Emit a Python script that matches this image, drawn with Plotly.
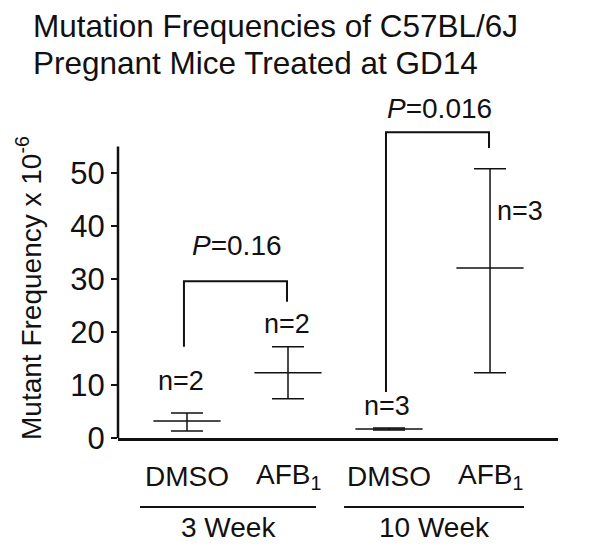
import plotly.graph_objects as go

# ---- data ----
treatments = ["DMSO", "AFB<sub>1</sub>", "DMSO", "AFB<sub>1</sub>"]
weeks = ["3 Week", "10 Week"]
means = [3.2, 12.3, 1.7, 32.1]
err_plus = [1.5, 4.9, 0.2, 18.7]
err_minus = [1.9, 4.9, 0.2, 19.8]
n_labels = ["n=2", "n=2", "n=3", "n=3"]
n_label_y = [10.8, 21.5, 6.0, 42.8]
n_label_dx = [-0.06, -0.01, -0.02, 0.30]
p_values = ["0.16", "0.016"]
p_label_y = [36.4, 62.1]
bracket_left_bottom = [17.2, 8.7]
bracket_top = [29.6, 57.7]
bracket_right_bottom = [25.7, 54.7]
y_ticks = [0, 10, 20, 30, 40, 50]
y_axis_top = 55

FONT = "Liberation Sans, Arial, Helvetica, sans-serif"
INK = "#111111"

xs = list(range(len(treatments)))

fig = go.Figure()

# means with error bars
fig.add_trace(go.Scatter(
    x=xs, y=means, mode="markers",
    marker=dict(symbol="line-ew", size=48, color=INK,
                line=dict(width=1.5, color=INK)),
    error_y=dict(type="data", array=err_plus, arrayminus=err_minus,
                 symmetric=False, thickness=1.5, width=16, color=INK),
    showlegend=False, hoverinfo="skip",
))

# significance brackets
for g in range(len(weeks)):
    xl = 2 * g - 0.03
    xr = 2 * g + 1 - 0.01
    fig.add_trace(go.Scatter(
        x=[xl, xl, xr, xr],
        y=[bracket_left_bottom[g], bracket_top[g], bracket_top[g], bracket_right_bottom[g]],
        mode="lines", line=dict(color=INK, width=2),
        showlegend=False, hoverinfo="skip",
    ))
    fig.add_annotation(x=2 * g + 0.5, y=p_label_y[g], xref="x", yref="y",
                       text="<i>P</i>=" + p_values[g], showarrow=False,
                       font=dict(size=28, family=FONT, color=INK))

# n labels
for i, t in enumerate(n_labels):
    fig.add_annotation(x=xs[i] + n_label_dx[i], y=n_label_y[i], xref="x", yref="y",
                       text=t, showarrow=False,
                       font=dict(size=27, family=FONT, color=INK))

# category labels
for i, t in enumerate(treatments):
    fig.add_annotation(x=xs[i], y=-0.109, xref="x", yref="paper", text=t,
                       showarrow=False, yanchor="middle",
                       font=dict(size=28, family=FONT, color=INK))

# group underlines and labels
for g, w in enumerate(weeks):
    x0 = 2 * g - 0.465 + (0.02 if g else 0)
    x1 = 2 * g + 1.277 + (0.06 if g else 0)
    fig.add_shape(type="line", xref="x", yref="paper", x0=x0, x1=x1,
                  y0=-0.197, y1=-0.197, line=dict(color=INK, width=2))
    fig.add_annotation(x=(x0 + x1) / 2, y=-0.257, xref="x", yref="paper", text=w,
                       showarrow=False, yanchor="middle",
                       font=dict(size=28, family=FONT, color=INK))

# y axis line (only up to 55)
fig.add_shape(type="line", xref="paper", yref="y", x0=0, x1=0, y0=0, y1=y_axis_top,
              line=dict(color=INK, width=2.5))

# y-axis title
fig.add_annotation(x=-0.202, y=0.429, xref="paper", yref="paper",
                   text="Mutant Frequency x 10<sup>-6</sup>", textangle=-90,
                   showarrow=False, xanchor="center", yanchor="middle",
                   font=dict(size=28, family=FONT, color=INK))

# title (two lines)
fig.add_annotation(x=-0.197, y=1.178, xref="paper", yref="paper",
                   text="Mutation Frequencies of C57BL/6J", showarrow=False,
                   xanchor="left", yanchor="middle",
                   font=dict(size=31.5, family=FONT, color=INK))
fig.add_annotation(x=-0.197, y=1.071, xref="paper", yref="paper",
                   text="Pregnant Mice Treated at GD14", showarrow=False,
                   xanchor="left", yanchor="middle",
                   font=dict(size=31.5, family=FONT, color=INK))

# the page has an 8px body margin: the figure is sized/offset to compensate
fig.update_layout(
    width=593, height=543,
    margin=dict(l=110, r=43, t=80, b=113),
    paper_bgcolor="white", plot_bgcolor="white",
    font=dict(family=FONT, color=INK),
    xaxis=dict(range=[-0.683, 3.673], showline=True, linewidth=2.5, linecolor=INK,
               showticklabels=False, ticks="", showgrid=False, zeroline=False),
    yaxis=dict(range=[0, 66.04], showline=False, ticks="outside", ticklen=6,
               tickwidth=2, tickcolor=INK, tickvals=y_ticks,
               tickfont=dict(size=31, family=FONT, color=INK),
               showgrid=False, zeroline=False),
)

fig.write_html("out.html")
